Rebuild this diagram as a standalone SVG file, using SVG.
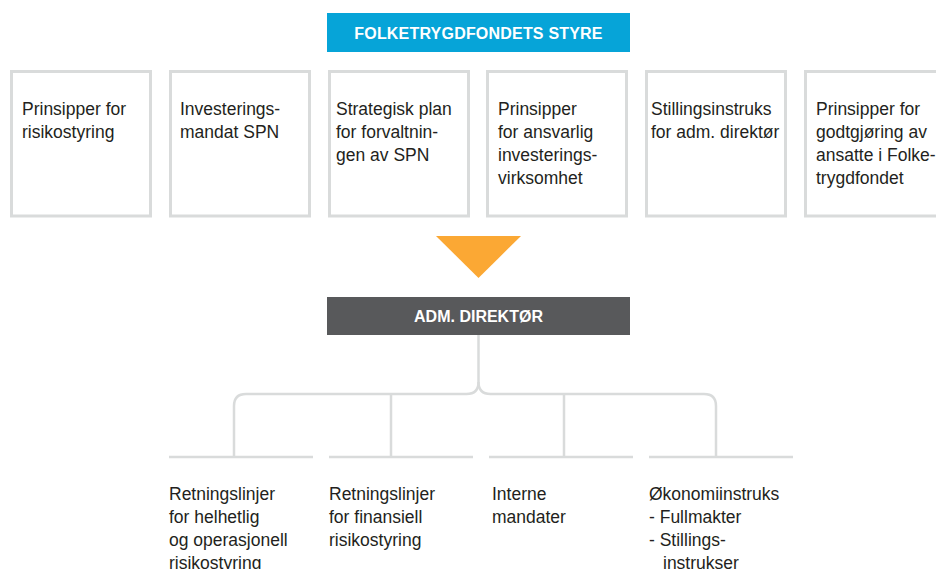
<svg xmlns="http://www.w3.org/2000/svg" width="936" height="569" viewBox="0 0 936 569">
<style>
.box{fill:#ffffff;stroke:#d9dbdb;stroke-width:3}
.t{font-family:"Liberation Sans",Arial,sans-serif;font-size:17.5px;fill:#231f20}
.h{font-family:"Liberation Sans",Arial,sans-serif;font-size:16px;font-weight:bold;fill:#ffffff;text-anchor:middle}
.c{fill:none;stroke:#d9dbdb;stroke-width:2.5}
</style>
<rect width="936" height="569" fill="#ffffff"/>
<g id="styre">
<rect x="327" y="13" width="303" height="39" fill="#06a4d8"/>
<text class="h" x="478.5" y="38.5" letter-spacing="0.2">FOLKETRYGDFONDETS STYRE</text>
</g>
<g id="doc1">
<rect class="box" x="11.5" y="71.5" width="139" height="144.5"/>
<text class="t"><tspan x="22" y="115">Prinsipper for</tspan><tspan x="22" y="138">risikostyring</tspan></text>
</g>
<g id="doc2">
<rect class="box" x="170.5" y="71.5" width="139" height="144.5"/>
<text class="t"><tspan x="180" y="115">Investerings-</tspan><tspan x="180" y="138">mandat SPN</tspan></text>
</g>
<g id="doc3">
<rect class="box" x="329.5" y="71.5" width="139" height="144.5"/>
<text class="t"><tspan x="336" y="115">Strategisk plan</tspan><tspan x="336" y="138">for forvaltnin-</tspan><tspan x="336" y="161">gen av SPN</tspan></text>
</g>
<g id="doc4">
<rect class="box" x="487.5" y="71.5" width="139" height="144.5"/>
<text class="t"><tspan x="498" y="115">Prinsipper</tspan><tspan x="498" y="138">for ansvarlig</tspan><tspan x="498" y="161">investerings-</tspan><tspan x="498" y="184">virksomhet</tspan></text>
</g>
<g id="doc5">
<rect class="box" x="646.5" y="71.5" width="139" height="144.5"/>
<text class="t"><tspan x="651" y="115">Stillingsinstruks</tspan><tspan x="651" y="138">for adm. direktør</tspan></text>
</g>
<g id="doc6">
<rect class="box" x="805.5" y="71.5" width="139" height="144.5"/>
<text class="t"><tspan x="816" y="115">Prinsipper for</tspan><tspan x="816" y="138">godtgjøring av</tspan><tspan x="816" y="161">ansatte i Folke-</tspan><tspan x="816" y="184">trygdfondet</tspan></text>
</g>
<g id="arrow">
<polygon points="436,236 521,236 478.5,278" fill="#fba834"/>
</g>
<g id="direktor">
<rect x="327" y="297" width="303" height="38" fill="#58595b"/>
<text class="h" x="478.5" y="322">ADM. DIREKTØR</text>
</g>
<g id="connectors">
<path class="c" d="M478.5,335 V382 Q478.5,394 466.5,394 H246 Q234,394 234,406 V456"/>
<path class="c" d="M478.5,382 Q478.5,394 490.5,394 H704 Q716,394 716,406 V456"/>
<path class="c" d="M391,394 V456"/>
<path class="c" d="M564,394 V456"/>
<path class="c" d="M169,457 H313 M329,457 H473 M489,457 H633 M649,457 H793"/>
</g>
<g id="ret1">
<text class="t"><tspan x="169" y="500">Retningslinjer</tspan><tspan x="169" y="523">for helhetlig</tspan><tspan x="169" y="546">og operasjonell</tspan><tspan x="169" y="569">risikostyring</tspan></text>
</g>
<g id="ret2">
<text class="t"><tspan x="329" y="500">Retningslinjer</tspan><tspan x="329" y="523">for finansiell</tspan><tspan x="329" y="546">risikostyring</tspan></text>
</g>
<g id="mandater">
<text class="t"><tspan x="492" y="500">Interne</tspan><tspan x="492" y="523">mandater</tspan></text>
</g>
<g id="okonomi">
<text class="t"><tspan x="649" y="500">Økonomiinstruks</tspan><tspan x="649" y="523">- Fullmakter</tspan><tspan x="649" y="546">- Stillings-</tspan><tspan x="663" y="569">instrukser</tspan></text>
</g>
</svg>
